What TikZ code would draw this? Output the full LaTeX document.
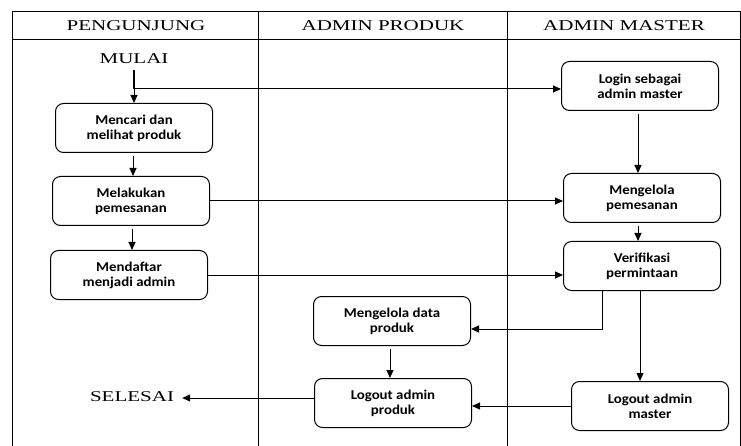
\documentclass[tikz,border=0pt]{standalone}
\usepackage{fontspec}
\setmainfont{Liberation Serif}
\newfontfamily\hdrfont[FakeStretch=1.4]{Liberation Serif}
\newfontfamily\boxfont[FakeStretch=1.1]{Carlito}
\usetikzlibrary{arrows.meta,calc}
\tikzset{
  lane/.style={draw, line width=1pt},
  hdr/.style={font=\hdrfont\fontsize{15}{17}\selectfont, inner sep=0pt},
  term/.style={font=\hdrfont\fontsize{15}{17}\selectfont, inner sep=0pt},
  actbox/.style={draw, line width=1pt, rounded corners=8pt, minimum width=157pt, minimum height=49pt,
     align=center, inner sep=2pt, font=\boxfont\bfseries\fontsize{13.5}{15}\selectfont},
  arr/.style={draw, line width=1pt, -{Triangle[length=8pt,width=7pt]}, shorten <=3pt},
  ln/.style={draw, line width=1pt}
}
\begin{document}
\begin{tikzpicture}[x=1pt,y=-1pt]
\useasboundingbox (0,0) rectangle (741,446);
\fill[white] (0,0) rectangle (741,446);
% swimlanes
\draw[lane] (12,446) -- (12,12) -- (740,12) -- (740,446);
\draw[lane] (12,40) -- (740,40);
\draw[lane] (258,12) -- (258,446);
\draw[lane] (507,12) -- (507,446);
\node[hdr] (h1) at (136,26) {PENGUNJUNG};
\node[hdr] (h2) at (383,26) {ADMIN PRODUK};
\node[hdr] (h3) at (624,26) {ADMIN MASTER};
% nodes
\node[term] (mulai) at (134,59) {MULAI};
\node[actbox] (b1) at (134,128) {Mencari dan\\melihat produk};
\node[actbox] (b2) at (131,201) {Melakukan\\pemesanan};
\node[actbox] (b3) at (129,275) {Mendaftar\\menjadi admin};
\node[actbox] (login) at (640,86) {Login sebagai\\admin master};
\node[actbox] (mp) at (642,198) {Mengelola\\pemesanan};
\node[actbox] (verif) at (642,266) {Verifikasi\\permintaan};
\node[actbox] (lm) at (650,406) {Logout admin\\master};
\node[actbox] (md) at (392,321) {Mengelola data\\produk};
\node[actbox] (lp) at (393,403) {Logout admin\\produk};
\node[term, inner xsep=8pt] (sel) at (132,397) {SELESAI};
% helper coordinates
\coordinate (top1) at (134,70);
\coordinate (x133) at (133,0);
\coordinate (x132) at (132,0);
\coordinate (j1) at (134,89);
\coordinate (v1) at (602,0);
\coordinate (v2) at (640,0);
\coordinate (x638) at (638,0);
\coordinate (x389) at (390,0);
\coordinate (y398) at (0,398);
% connectors
\draw[line width=1.2pt] (top1) -- (j1);
\draw[arr, shorten <=0pt] (j1) -- (j1 |- b1.north);
\draw[arr, shorten <=0pt] (j1) -- (j1 -| login.west);
\draw[arr] (x133 |- b1.south) -- (x133 |- b2.north);
\draw[arr] (x132 |- b2.south) -- (x132 |- b3.north);
\draw[arr, shorten <=0pt] (b2.east) -- (b2.east -| mp.west);
\draw[arr, shorten <=0pt] (b3.east) -- (b3.east -| verif.west);
\draw[arr] (x638 |- login.south) -- (x638 |- mp.north);
\draw[arr] (x638 |- mp.south) -- (x638 |- verif.north);
\coordinate (m1) at ($(md.east)+(0,8)$);
\draw[arr, shorten <=0pt] (v1 |- verif.south) |- (m1);
\draw[arr, shorten <=0pt] (v2 |- verif.south) -- (v2 |- lm.north);
\draw[arr, shorten <=0pt] (lm.west) -- (lm.west -| lp.east);
\draw[arr] (x389 |- md.south) -- (x389 |- lp.north);
\draw[arr, shorten <=0pt] (lp.west |- y398) -- (sel.east |- y398);
\end{tikzpicture}
\end{document}
